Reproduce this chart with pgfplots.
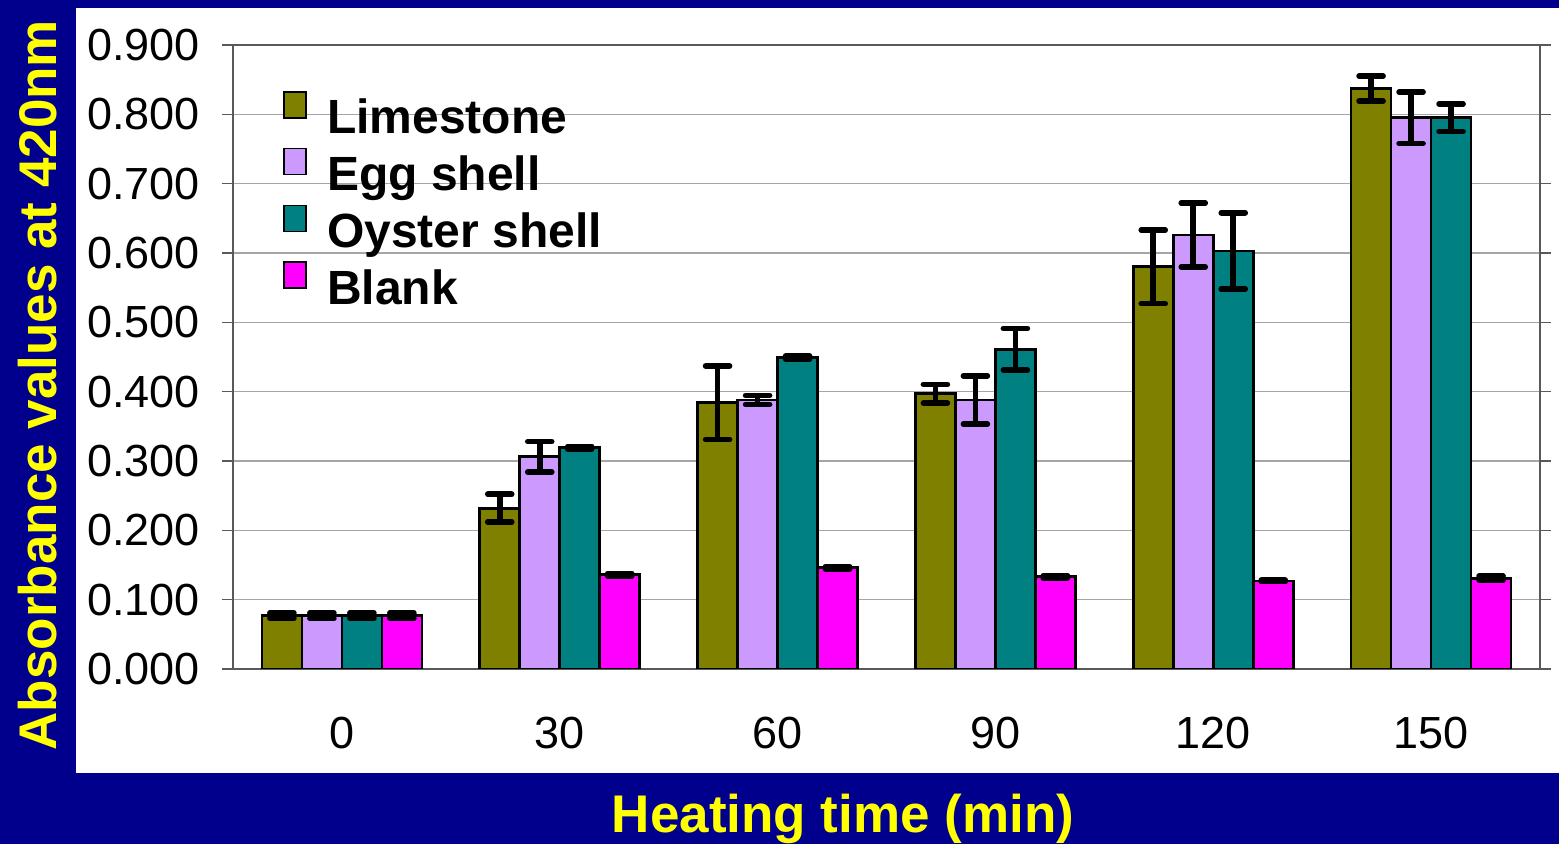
\documentclass[border=0pt]{standalone}
\usepackage{pgfplots}
\pgfplotsset{compat=1.18}
\usepackage{pgfplotstable}
\usepackage{fontspec}
\setmainfont{Liberation Sans}
\definecolor{navybg}{RGB}{0,0,140}
\definecolor{limec}{RGB}{128,128,0}
\definecolor{eggc}{RGB}{204,153,255}
\definecolor{oysc}{RGB}{0,128,128}
\definecolor{blankc}{RGB}{255,0,255}
\definecolor{labyel}{RGB}{255,255,0}
\pgfplotstableread{
x L Le E Ee O Oe B Be
0 0.077 0.004 0.077 0.004 0.077 0.004 0.077 0.004
1 0.232 0.020 0.306 0.022 0.319 0.002 0.136 0.002
2 0.384 0.053 0.388 0.0065 0.449 0.002 0.146 0.002
3 0.397 0.0135 0.388 0.035 0.461 0.030 0.133 0.002
4 0.580 0.053 0.626 0.046 0.603 0.055 0.127 0.001
5 0.837 0.018 0.795 0.037 0.795 0.020 0.131 0.003
}\datatable
\begin{document}
\begin{tikzpicture}
\fill[navybg] (0,0) rectangle (779.5pt,422pt);
\path[use as bounding box] (0,0) rectangle (779.5pt,422pt);
\fill[white] (38pt,35.5pt) rectangle (779.5pt,418pt);
\begin{axis}[
  at={(116.5pt,87.5pt)}, anchor=south west,
  scale only axis, width=653.5pt, height=312pt,
  ybar=0pt, bar width=20pt,
  xmin=-0.5, xmax=5.5, ymin=0, ymax=0.9,
  xtick={0,1,2,3,4,5}, xticklabels={0,30,60,90,120,150},
  major x tick style={draw=none},
  ytick distance=0.1,
  tick align=outside,
  major tick length=5.5pt,
  ytick style={gray!70!black, line width=0.8pt},
  ymajorgrids, grid style={gray!70, line width=0.8pt},
  axis line style={gray!70!black, line width=0.8pt},
  tick label style={font=\fontsize{22.5}{26}\selectfont, black},
  /pgf/number format/assume math mode=true,
  yticklabel style={/pgf/number format/fixed, /pgf/number format/fixed zerofill, /pgf/number format/precision=3, xshift=-7.5pt},
  xticklabel style={yshift=-15pt},
  ylabel={Absorbance values at 420nm},
  ylabel style={font=\bfseries\fontsize{26.5}{30}\selectfont, text=labyel, at={(axis description cs:-0.1492,0.455)}, anchor=center},
  xlabel={Heating time (min)},
  xlabel style={font=\bfseries\fontsize{26.5}{30}\selectfont, text=labyel, at={(axis description cs:0.4667,-0.2628)}, anchor=base},
  legend style={at={(axis description cs:0.0383,0.927)}, anchor=north west, draw=none, fill=none, inner sep=0pt,
    font=\bfseries\fontsize{24}{28}\selectfont,
    nodes={inner sep=1pt, text height=18pt, text depth=5pt},
    row sep=-1pt, column sep=0pt},
  legend cell align=left,
  legend image code/.code={\path[draw=none, fill=none] (0pt,-14.5pt) (0pt,14.5pt) (20.5pt,0pt);
    \draw[#1, draw=black, line width=0.8pt] (0pt,1.5pt) rectangle (11pt,14.5pt);},
  every axis plot/.append style={draw=black, line width=1.4pt,
    error bars/y dir=both, error bars/y explicit,
    error bars/error bar style={line width=2.8pt, black},
    error bars/error mark options={rotate=90, line width=2.8pt, mark size=6pt, line cap=round, black}},
]
\addplot[fill=limec] table[x=x, y=L, y error=Le] {\datatable};
\addplot[fill=eggc] table[x=x, y=E, y error=Ee] {\datatable};
\addplot[fill=oysc] table[x=x, y=O, y error=Oe] {\datatable};
\addplot[fill=blankc] table[x=x, y=B, y error=Be] {\datatable};
\legend{Limestone, Egg shell, Oyster shell, Blank}
\end{axis}
\end{tikzpicture}
\end{document}
